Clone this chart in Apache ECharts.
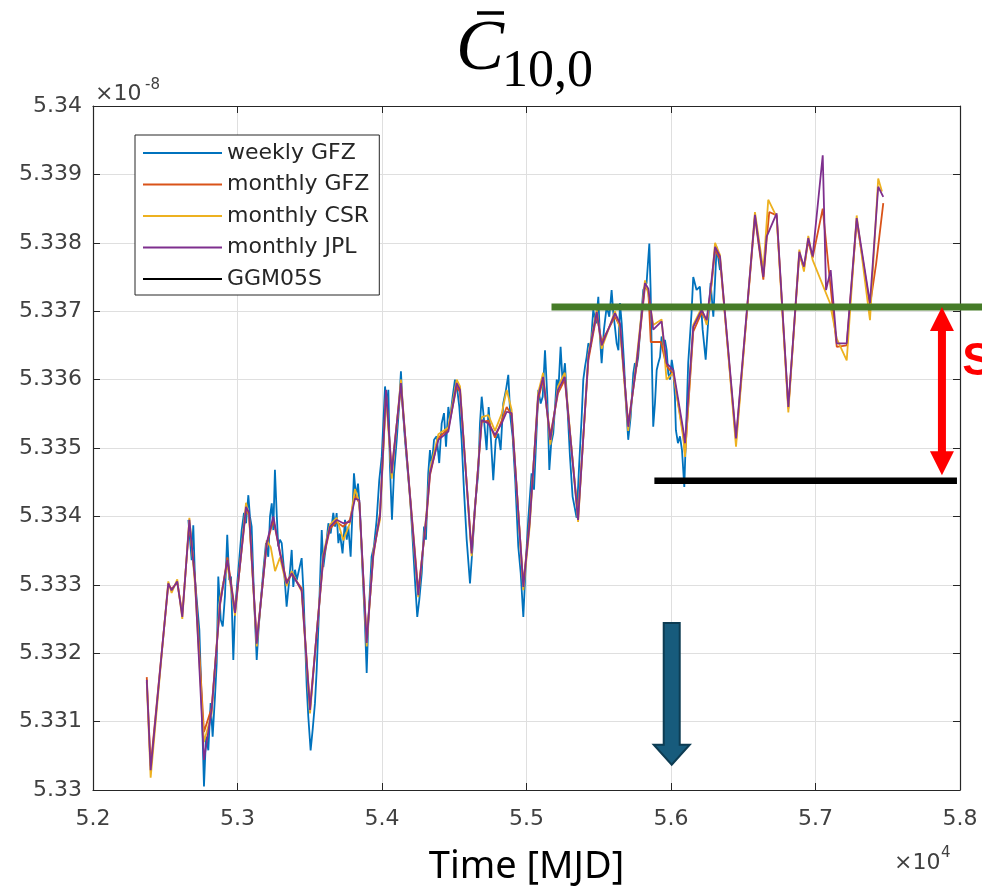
<!DOCTYPE html>
<html>
<head>
<meta charset="utf-8">
<script src="https://cdn.jsdelivr.net/npm/echarts@6.0.0/dist/echarts.min.js"></script>
<style>
  html, body { margin: 0; padding: 0; background: #ffffff; }
  #chart { width: 982px; height: 891px; }
</style>
</head>
<body>
<div id="chart"></div>
<script>
// Tick labels (axis values are in units of 1e-8 for y and MJD for x)
const xTickLabels = ['5.2', '5.3', '5.4', '5.5', '5.6', '5.7', '5.8'];
const yTickLabels = ['5.33', '5.331', '5.332', '5.333', '5.334', '5.335', '5.336', '5.337', '5.338', '5.339', '5.34'];

// Weekly GFZ solutions: MJD and C10,0 (x1e-8)
const weeklyGfzMjd = [
  52660, 52671, 52683, 52694, 52706, 52736, 52752, 52768, 52782, 52798, 52814, 52828, 52844, 52856, 52867, 52884,
  52898, 52913, 52929, 52943, 52955, 52971, 52983, 53006, 53029, 53045, 53059, 53075, 53086, 53098, 53114, 53133,
  53147, 53160, 53179, 53197, 53213, 53225, 53237, 53248, 53259, 53271, 53282, 53294, 53306, 53322, 53340, 53358,
  53375, 53386, 53398, 53410, 53444, 53456, 53479, 53490, 53506, 53520, 53536, 53548, 53566, 53583, 53594, 53612,
  53629, 53645, 53663, 53675, 53686, 53698, 53709, 53727, 53744, 53756, 53767, 53783, 53797, 53806, 53820, 53834,
  53848, 53866, 53882, 53894, 53905, 53928, 53944, 53963, 53981, 53998, 54009, 54021, 54032, 54044, 54055, 54069,
  54083, 54102, 54118, 54131, 54143, 54159, 54175, 54194, 54212, 54228, 54244, 54258, 54275, 54291, 54304, 54320,
  54332, 54344, 54360, 54378, 54396, 54413, 54429, 54443, 54459, 54470, 54489, 54505, 54521, 54535, 54551, 54567,
  54586, 54609, 54627, 54643, 54666, 54678, 54690, 54706, 54724, 54738, 54754, 54770, 54787, 54805, 54821, 54839,
  54858, 54874, 54888, 54904, 54922, 54943, 54960, 54978, 54996, 55012, 55035, 55052, 55070, 55082, 55098, 55112,
  55128, 55144, 55158, 55171, 55185, 55199, 55209, 55222, 55236, 55250, 55266, 55282, 55301, 55319, 55347, 55365,
  55382, 55393, 55405, 55416, 55428, 55444, 55462, 55481, 55497, 55508, 55520, 55536, 55555, 55573, 55589, 55601,
  55612, 55624, 55636, 55647, 55659, 55675, 55688, 55704, 55721, 55739, 55750, 55762, 55773, 55790, 55808, 55831,
  55850, 55859, 55868, 55877, 55889, 55901, 55912, 55924, 55935, 55947, 55958, 55970, 55981, 55993, 56005, 56016,
  56027, 56034, 56048, 56062, 56076, 56092, 56119, 56142, 56154, 56177, 56200, 56219, 56240, 56258, 56274, 56293,
  56316, 56339
];
const weeklyGfzVal = [
  5.33395, 5.33397, 5.33336, 5.33387, 5.33307, 5.33234, 5.33127, 5.33005, 5.33078, 5.33058, 5.33127, 5.33078, 5.33136, 5.33185, 5.33312, 5.33249,
  5.33239, 5.33283, 5.33373, 5.33307, 5.33312, 5.33190, 5.33263, 5.33322, 5.33380, 5.33405, 5.33390, 5.33431, 5.33400, 5.33385, 5.33283, 5.33190,
  5.33239, 5.33273, 5.33322, 5.33361, 5.33341, 5.33400, 5.33419, 5.33380, 5.33468, 5.33405, 5.33356, 5.33366, 5.33361, 5.33322, 5.33268, 5.33307,
  5.33351, 5.33297, 5.33322, 5.33307, 5.33339, 5.33292, 5.33151, 5.33107, 5.33058, 5.33088, 5.33127, 5.33175, 5.33273, 5.33380, 5.33326, 5.33356,
  5.33390, 5.33375, 5.33405, 5.33385, 5.33405, 5.33361, 5.33375, 5.33346, 5.33395, 5.33366, 5.33385, 5.33341, 5.33414, 5.33463, 5.33429, 5.33448,
  5.33405, 5.33317, 5.33244, 5.33171, 5.33244, 5.33341, 5.33356, 5.33395, 5.33453, 5.33487, 5.33536, 5.33590, 5.33560, 5.33585, 5.33473, 5.33395,
  5.33463, 5.33512, 5.33560, 5.33612, 5.33560, 5.33512, 5.33473, 5.33429, 5.33366, 5.33307, 5.33253, 5.33278, 5.33317, 5.33385, 5.33366, 5.33463,
  5.33497, 5.33473, 5.33512, 5.33517, 5.33478, 5.33536, 5.33551, 5.33502, 5.33560, 5.33541, 5.33575, 5.33600, 5.33585, 5.33560, 5.33512, 5.33439,
  5.33366, 5.33302, 5.33356, 5.33414, 5.33463, 5.33536, 5.33575, 5.33541, 5.33497, 5.33560, 5.33512, 5.33453, 5.33512, 5.33521, 5.33497, 5.33565,
  5.33585, 5.33607, 5.33546, 5.33517, 5.33453, 5.33356, 5.33317, 5.33253, 5.33336, 5.33395, 5.33463, 5.33439, 5.33526, 5.33585, 5.33565, 5.33575,
  5.33643, 5.33575, 5.33468, 5.33507, 5.33521, 5.33565, 5.33600, 5.33590, 5.33648, 5.33595, 5.33624, 5.33565, 5.33487, 5.33429, 5.33398, 5.33478,
  5.33546, 5.33600, 5.33619, 5.33633, 5.33653, 5.33648, 5.33702, 5.33682, 5.33721, 5.33663, 5.33624, 5.33673, 5.33707, 5.33692, 5.33731, 5.33697,
  5.33677, 5.33653, 5.33643, 5.33712, 5.33682, 5.33624, 5.33565, 5.33512, 5.33546, 5.33609, 5.33624, 5.33619, 5.33633, 5.33682, 5.33731, 5.33741,
  5.33799, 5.33731, 5.33624, 5.33531, 5.33565, 5.33614, 5.33624, 5.33633, 5.33663, 5.33648, 5.33658, 5.33643, 5.33609, 5.33600, 5.33629, 5.33614,
  5.33575, 5.33526, 5.33507, 5.33517, 5.33497, 5.33443, 5.33624, 5.33697, 5.33750, 5.33731, 5.33736, 5.33673, 5.33629, 5.33687, 5.33741, 5.33692,
  5.33794, 5.33760
];

// Monthly GFZ solutions
const monthlyGfzMjd = [
  52372, 52399, 52521, 52544, 52583, 52618, 52667, 52706, 52768, 52821, 52879, 52930, 52983, 53059, 53080, 53133,
  53202, 53248, 53294, 53340, 53375, 53444, 53502, 53594, 53640, 53686, 53732, 53778, 53813, 53843, 53894, 53940,
  53986, 54028, 54067, 54131, 54194, 54251, 54309, 54332, 54390, 54459, 54517, 54540, 54620, 54690, 54736, 54782,
  54828, 54863, 54897, 54978, 55022, 55080, 55115, 55165, 55218, 55265, 55357, 55428, 55486, 55520, 55612, 55647,
  55704, 55762, 55820, 55843, 55860, 55930, 55969, 56016, 56085, 56097, 56154, 56212, 56247, 56281, 56305, 56339,
  56450, 56581, 56639, 56662, 56680, 56731, 56812, 56888, 56920, 56950, 56980, 57050, 57090, 57147, 57216, 57285,
  57377, 57420, 57469
];
const monthlyGfzVal = [
  5.33165, 5.33035, 5.33300, 5.33294, 5.33303, 5.33258, 5.33390, 5.33310, 5.33085, 5.33120, 5.33270, 5.33340, 5.33262, 5.33410, 5.33402, 5.33218,
  5.33358, 5.33395, 5.33348, 5.33305, 5.33315, 5.33295, 5.33120, 5.33338, 5.33382, 5.33392, 5.33385, 5.33395, 5.33430, 5.33420, 5.33220, 5.33342,
  5.33405, 5.33580, 5.33468, 5.33590, 5.33432, 5.33290, 5.33400, 5.33460, 5.33515, 5.33528, 5.33590, 5.33582, 5.33350, 5.33538, 5.33540, 5.33515,
  5.33540, 5.33560, 5.33548, 5.33300, 5.33395, 5.33570, 5.33600, 5.33518, 5.33580, 5.33600, 5.33400, 5.33628, 5.33695, 5.33655, 5.33692, 5.33678,
  5.33535, 5.33620, 5.33736, 5.33730, 5.33655, 5.33655, 5.33620, 5.33608, 5.33520, 5.33490, 5.33670, 5.33698, 5.33684, 5.33740, 5.33790, 5.33776,
  5.33510, 5.33838, 5.33746, 5.33805, 5.33845, 5.33840, 5.33558, 5.33783, 5.33762, 5.33803, 5.33778, 5.33850, 5.33765, 5.33648, 5.33650, 5.33832,
  5.33708, 5.33770, 5.33858
];

// Monthly CSR solutions
const monthlyCsrMjd = [
  52372, 52399, 52521, 52544, 52583, 52618, 52667, 52706, 52768, 52821, 52879, 52930, 52983, 53059, 53080, 53133,
  53202, 53230, 53260, 53294, 53340, 53375, 53444, 53502, 53594, 53640, 53686, 53732, 53778, 53813, 53843, 53894,
  53940, 53986, 54028, 54067, 54131, 54194, 54251, 54309, 54332, 54390, 54459, 54517, 54540, 54620, 54690, 54736,
  54782, 54828, 54863, 54897, 54978, 55022, 55080, 55115, 55165, 55218, 55265, 55357, 55428, 55486, 55520, 55612,
  55647, 55704, 55762, 55820, 55843, 55877, 55935, 55969, 56016, 56085, 56097, 56154, 56212, 56247, 56281, 56305,
  56339, 56450, 56581, 56639, 56673, 56731, 56812, 56888, 56920, 56950, 56980, 57100, 57147, 57216, 57285, 57377,
  57434, 57460
];
const monthlyCsrVal = [
  5.33158, 5.33018, 5.33305, 5.33288, 5.33308, 5.33250, 5.33398, 5.33300, 5.33070, 5.33112, 5.33280, 5.33330, 5.33255, 5.33420, 5.33400, 5.33210,
  5.33365, 5.33355, 5.33320, 5.33340, 5.33298, 5.33320, 5.33290, 5.33112, 5.33345, 5.33388, 5.33398, 5.33365, 5.33390, 5.33440, 5.33420, 5.33210,
  5.33350, 5.33395, 5.33578, 5.33455, 5.33600, 5.33425, 5.33282, 5.33408, 5.33468, 5.33520, 5.33530, 5.33600, 5.33590, 5.33342, 5.33545, 5.33548,
  5.33525, 5.33550, 5.33585, 5.33556, 5.33292, 5.33385, 5.33580, 5.33610, 5.33505, 5.33590, 5.33610, 5.33392, 5.33636, 5.33702, 5.33645, 5.33700,
  5.33675, 5.33525, 5.33630, 5.33745, 5.33725, 5.33680, 5.33688, 5.33600, 5.33610, 5.33515, 5.33487, 5.33680, 5.33705, 5.33680, 5.33742, 5.33800,
  5.33782, 5.33502, 5.33845, 5.33760, 5.33863, 5.33838, 5.33552, 5.33790, 5.33758, 5.33810, 5.33775, 5.33712, 5.33660, 5.33628, 5.33840, 5.33687,
  5.33894, 5.33875
];

// Monthly JPL solutions
const monthlyJplMjd = [
  52372, 52399, 52521, 52544, 52583, 52618, 52667, 52706, 52768, 52821, 52879, 52930, 52983, 53059, 53080, 53133,
  53202, 53248, 53294, 53340, 53375, 53444, 53502, 53594, 53640, 53686, 53732, 53778, 53813, 53843, 53894, 53940,
  53986, 54028, 54067, 54131, 54194, 54251, 54309, 54332, 54390, 54459, 54517, 54540, 54620, 54690, 54736, 54782,
  54828, 54863, 54897, 54978, 55022, 55080, 55115, 55165, 55218, 55265, 55357, 55428, 55486, 55520, 55612, 55647,
  55704, 55762, 55820, 55843, 55877, 55935, 55969, 56016, 56085, 56097, 56154, 56212, 56247, 56281, 56305, 56339,
  56450, 56581, 56639, 56662, 56731, 56812, 56888, 56920, 56950, 56980, 57050, 57073, 57105, 57147, 57216, 57285,
  57377, 57434, 57469
];
const monthlyJplVal = [
  5.33161, 5.33029, 5.33302, 5.33292, 5.33305, 5.33253, 5.33395, 5.33307, 5.33044, 5.33117, 5.33273, 5.33336, 5.33259, 5.33414, 5.33405, 5.33214,
  5.33361, 5.33400, 5.33346, 5.33302, 5.33317, 5.33292, 5.33117, 5.33341, 5.33385, 5.33395, 5.33390, 5.33392, 5.33426, 5.33424, 5.33215, 5.33346,
  5.33400, 5.33585, 5.33463, 5.33595, 5.33429, 5.33285, 5.33405, 5.33463, 5.33512, 5.33524, 5.33595, 5.33585, 5.33346, 5.33541, 5.33536, 5.33519,
  5.33536, 5.33553, 5.33551, 5.33297, 5.33390, 5.33575, 5.33604, 5.33512, 5.33585, 5.33604, 5.33395, 5.33633, 5.33699, 5.33650, 5.33697, 5.33682,
  5.33531, 5.33624, 5.33741, 5.33733, 5.33673, 5.33685, 5.33624, 5.33614, 5.33526, 5.33507, 5.33677, 5.33702, 5.33687, 5.33746, 5.33794, 5.33780,
  5.33514, 5.33841, 5.33750, 5.33809, 5.33843, 5.33560, 5.33787, 5.33765, 5.33807, 5.33780, 5.33928, 5.33731, 5.33760, 5.33653, 5.33653, 5.33836,
  5.33712, 5.33882, 5.33867
];

// Overlay annotations, in axis units [MJD, value]
const upperLevel = [[55173, 5.33706], [58200, 5.33706]];
const lowerLevel = [[55885, 5.33452], [57979, 5.33452]];
const spanArrow = { mjd: 57875, top: 5.33706, bottom: 5.33460 };
const spanLabel = { mjd: 58015, value: 5.33626, text: 'S' };
const downArrow = { mjd: 56005, top: 5.33244, tip: 5.33037 };

const COLORS = {
  weekly: '#0072BD', gfz: '#D95319', csr: '#EDB120', jpl: '#7E2F8E', ggm: '#000000'
};
const AXIS_COLOR = '#262626';
const LABEL_COLOR = '#404040';
const SANS = 'DejaVu Sans';

function pairs(xs, ys) { return xs.map((x, i) => [x, ys[i]]); }

function dataLine(name, color, xs, ys) {
  return {
    name: name, type: 'line', data: pairs(xs, ys), color: color,
    symbol: 'none', showSymbol: false, silent: true,
    lineStyle: { width: 1.8, color: color }, z: 2
  };
}

const chart = echarts.init(document.getElementById('chart'), null, { renderer: 'canvas' });

const xCommon = { type: 'value', min: 52000, max: 58000, interval: 1000 };
const yCommon = { type: 'value', min: 5.33, max: 5.34, interval: 0.001 };

const option = {
  animation: false,
  backgroundColor: '#ffffff',
  grid: { left: 93, right: 22, top: 106, bottom: 101, containLabel: false },
  legend: {
    data: ['weekly GFZ', 'monthly GFZ', 'monthly CSR', 'monthly JPL', 'GGM05S'],
    orient: 'vertical', left: 135, top: 135,
    icon: 'rect', itemWidth: 79, itemHeight: 2, itemGap: 9.5,
    padding: [7, 10, 5, 8],
    borderColor: AXIS_COLOR, borderWidth: 1, backgroundColor: '#ffffff',
    selectedMode: false,
    textStyle: { fontFamily: SANS, fontSize: 22, color: AXIS_COLOR }
  },
  xAxis: [
    Object.assign({}, xCommon, {
      position: 'bottom',
      name: 'Time [MJD]', nameLocation: 'middle', nameGap: 58,
      nameTextStyle: { fontFamily: 'Noto Sans', fontSize: 38, color: '#000000' },
      axisLine: { show: true, onZero: false, lineStyle: { color: AXIS_COLOR, width: 1.2 } },
      axisTick: { show: true, inside: true, length: 7, lineStyle: { color: AXIS_COLOR } },
      axisLabel: {
        margin: 18, fontFamily: SANS, fontSize: 22, color: LABEL_COLOR,
        formatter: v => xTickLabels[Math.round((v - 52000) / 1000)]
      },
      splitLine: { show: true, lineStyle: { color: '#dfdfdf', width: 1 } }
    }),
    Object.assign({}, xCommon, {
      position: 'top',
      axisLine: { show: true, onZero: false, lineStyle: { color: AXIS_COLOR, width: 1.2 } },
      axisTick: { show: true, inside: true, length: 7, lineStyle: { color: AXIS_COLOR } },
      axisLabel: { show: false }, splitLine: { show: false }
    })
  ],
  yAxis: [
    Object.assign({}, yCommon, {
      position: 'left',
      axisLine: { show: true, onZero: false, lineStyle: { color: AXIS_COLOR, width: 1.2 } },
      axisTick: { show: true, inside: true, length: 7, lineStyle: { color: AXIS_COLOR } },
      axisLabel: {
        margin: 11, fontFamily: SANS, fontSize: 22, color: LABEL_COLOR,
        formatter: v => yTickLabels[Math.round((v - 5.33) / 0.001)]
      },
      splitLine: { show: true, lineStyle: { color: '#dfdfdf', width: 1 } }
    }),
    Object.assign({}, yCommon, {
      position: 'right',
      axisLine: { show: true, onZero: false, lineStyle: { color: AXIS_COLOR, width: 1.2 } },
      axisTick: { show: true, inside: true, length: 7, lineStyle: { color: AXIS_COLOR } },
      axisLabel: { show: false }, splitLine: { show: false }
    })
  ],
  series: [
    dataLine('weekly GFZ', COLORS.weekly, weeklyGfzMjd, weeklyGfzVal),
    dataLine('monthly GFZ', COLORS.gfz, monthlyGfzMjd, monthlyGfzVal),
    dataLine('monthly CSR', COLORS.csr, monthlyCsrMjd, monthlyCsrVal),
    dataLine('monthly JPL', COLORS.jpl, monthlyJplMjd, monthlyJplVal),
    { name: 'GGM05S', type: 'line', data: [], color: COLORS.ggm, symbol: 'none', lineStyle: { color: COLORS.ggm, width: 1.8 } }
  ]
};

chart.setOption(option);

// Overlay shapes placed from axis units
function px(mjd, v) { return chart.convertToPixel({ gridIndex: 0 }, [mjd, v]); }

function levelLine(pts, color, width) {
  const a = px(pts[0][0], pts[0][1]);
  const b = px(pts[1][0], pts[1][1]);
  return {
    type: 'line', silent: true, z: 19,
    shape: { x1: a[0], y1: a[1], x2: b[0], y2: b[1] },
    style: { stroke: color, lineWidth: width, lineCap: 'butt' }
  };
}

const sTop = px(spanArrow.mjd, spanArrow.top);
const sBot = px(spanArrow.mjd, spanArrow.bottom);
const cx = sTop[0];
const shaft = 4, headW = 12, headL = 24;
const spanPoints = [
  [cx, sTop[1]], [cx + headW, sTop[1] + headL], [cx + shaft, sTop[1] + headL],
  [cx + shaft, sBot[1] - headL], [cx + headW, sBot[1] - headL], [cx, sBot[1]],
  [cx - headW, sBot[1] - headL], [cx - shaft, sBot[1] - headL],
  [cx - shaft, sTop[1] + headL], [cx - headW, sTop[1] + headL]
];

const dTop = px(downArrow.mjd, downArrow.top);
const dTip = px(downArrow.mjd, downArrow.tip);
const dx = dTop[0];
const dShaft = 8, dHeadW = 18, dHeadL = 20;
const downPoints = [
  [dx - dShaft, dTop[1]], [dx + dShaft, dTop[1]], [dx + dShaft, dTip[1] - dHeadL],
  [dx + dHeadW, dTip[1] - dHeadL], [dx, dTip[1]], [dx - dHeadW, dTip[1] - dHeadL],
  [dx - dShaft, dTip[1] - dHeadL]
];

const sLab = px(spanLabel.mjd, spanLabel.value);

function txt(x, y, text, style) {
  return {
    type: 'text', x: x, y: y, silent: true, z: 20,
    style: Object.assign({ text: text, align: 'left', verticalAlign: 'middle',
      textAlign: 'left', textVerticalAlign: 'middle' }, style)
  };
}

chart.setOption({
  graphic: {
    elements: [
      // Title: C-bar with subscript 10,0
      txt(456, 50, 'C', { fontFamily: 'Liberation Serif', fontStyle: 'italic', fontSize: 72, fill: '#000000' }),
      txt(502, 72, '10,0', { fontFamily: 'Liberation Serif', fontSize: 52, fill: '#000000' }),
      { type: 'line', silent: true, z: 20, shape: { x1: 477, y1: 13, x2: 504, y2: 13 }, style: { stroke: '#000000', lineWidth: 3.5 } },
      // Axis exponents
      txt(95, 94, '\u00d710', { fontFamily: SANS, fontSize: 22, fill: LABEL_COLOR }),
      txt(145, 85, '-8', { fontFamily: SANS, fontSize: 15, fill: LABEL_COLOR }),
      txt(894, 863, '\u00d710', { fontFamily: SANS, fontSize: 22, fill: LABEL_COLOR }),
      txt(941, 853, '4', { fontFamily: SANS, fontSize: 15, fill: LABEL_COLOR }),
      // Reference levels
      levelLine(upperLevel, '#467c28', 7),
      levelLine(lowerLevel, '#000000', 6.5),
      // Span arrow and its label
      { type: 'polygon', silent: true, z: 21, shape: { points: spanPoints }, style: { fill: '#ff0000' } },
      txt(sLab[0], sLab[1], spanLabel.text, { fontFamily: 'Liberation Sans', fontWeight: 'bold', fontSize: 46, fill: '#ff0000' }),
      // Down arrow
      { type: 'polygon', silent: true, z: 21, shape: { points: downPoints }, style: { fill: '#175b7c', stroke: '#0d3c53', lineWidth: 2 } }
    ]
  }
});
</script>
</body>
</html>
